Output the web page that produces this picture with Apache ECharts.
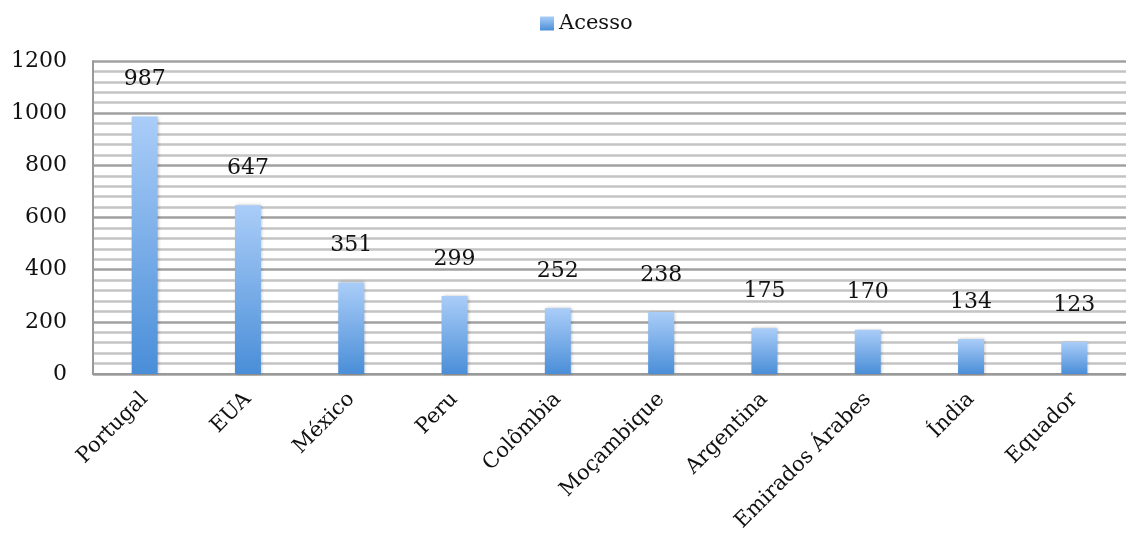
<!DOCTYPE html>
<html>
<head>
<meta charset="utf-8">
<script src="https://cdn.jsdelivr.net/npm/echarts@6/dist/echarts.min.js"></script>
<style>html,body{margin:0;padding:0;background:#fff}#c{width:1126px;height:550px}</style>
</head>
<body>
<div id="c"></div>
<script>
const categories = ['Portugal','EUA','México','Peru','Colômbia','Moçambique','Argentina','Emirados Árabes','Índia','Equador'];
const acesso = [987, 647, 351, 299, 252, 238, 175, 170, 134, 123];
const seriesName = 'Acesso';

const FONT = 'DejaVu Serif';
const chart = echarts.init(document.getElementById('c'));
const grad = new echarts.graphic.LinearGradient(0, 0, 0, 1, [
  {offset: 0, color: '#aacdf8'},
  {offset: 1, color: '#4a8ed8'}
]);
chart.setOption({
  animation: false,
  legend: {
    top: 8, left: 535,
    itemWidth: 14, itemHeight: 14, itemGap: 6,
    textStyle: {fontFamily: FONT, fontSize: 21, color: '#111'},
    data: [{name: seriesName, icon: 'rect'}]
  },
  grid: {left: 93, right: 0, top: 61, bottom: 176},
  xAxis: {
    type: 'category',
    data: categories,
    axisLine: {lineStyle: {color: '#9a9a9a', width: 2}},
    axisTick: {show: false},
    axisLabel: {rotate: 45, margin: 22, fontFamily: FONT, fontSize: 21, color: '#111', interval: 0}
  },
  yAxis: {
    type: 'value',
    min: 0, max: 1200, interval: 200,
    axisLine: {show: true, lineStyle: {color: '#9a9a9a', width: 2}},
    axisTick: {show: false},
    axisLabel: {margin: 26, fontFamily: FONT, fontSize: 22, color: '#111', formatter: v => String(v)},
    splitLine: {lineStyle: {color: '#a0a0a0', width: 2.5}},
    minorTick: {show: false, splitNumber: 5},
    minorSplitLine: {show: true, lineStyle: {color: '#c4c4c4', width: 2.5}}
  },
  series: [{
    name: seriesName,
    type: 'bar',
    data: acesso,
    barWidth: 26,
    itemStyle: {color: grad, shadowColor: 'rgba(0,0,0,0.25)', shadowBlur: 3, shadowOffsetX: 1},
    label: {show: true, position: 'top', distance: 26, fontFamily: FONT, fontSize: 22, color: '#111'}
  }]
});
</script>
</body>
</html>
